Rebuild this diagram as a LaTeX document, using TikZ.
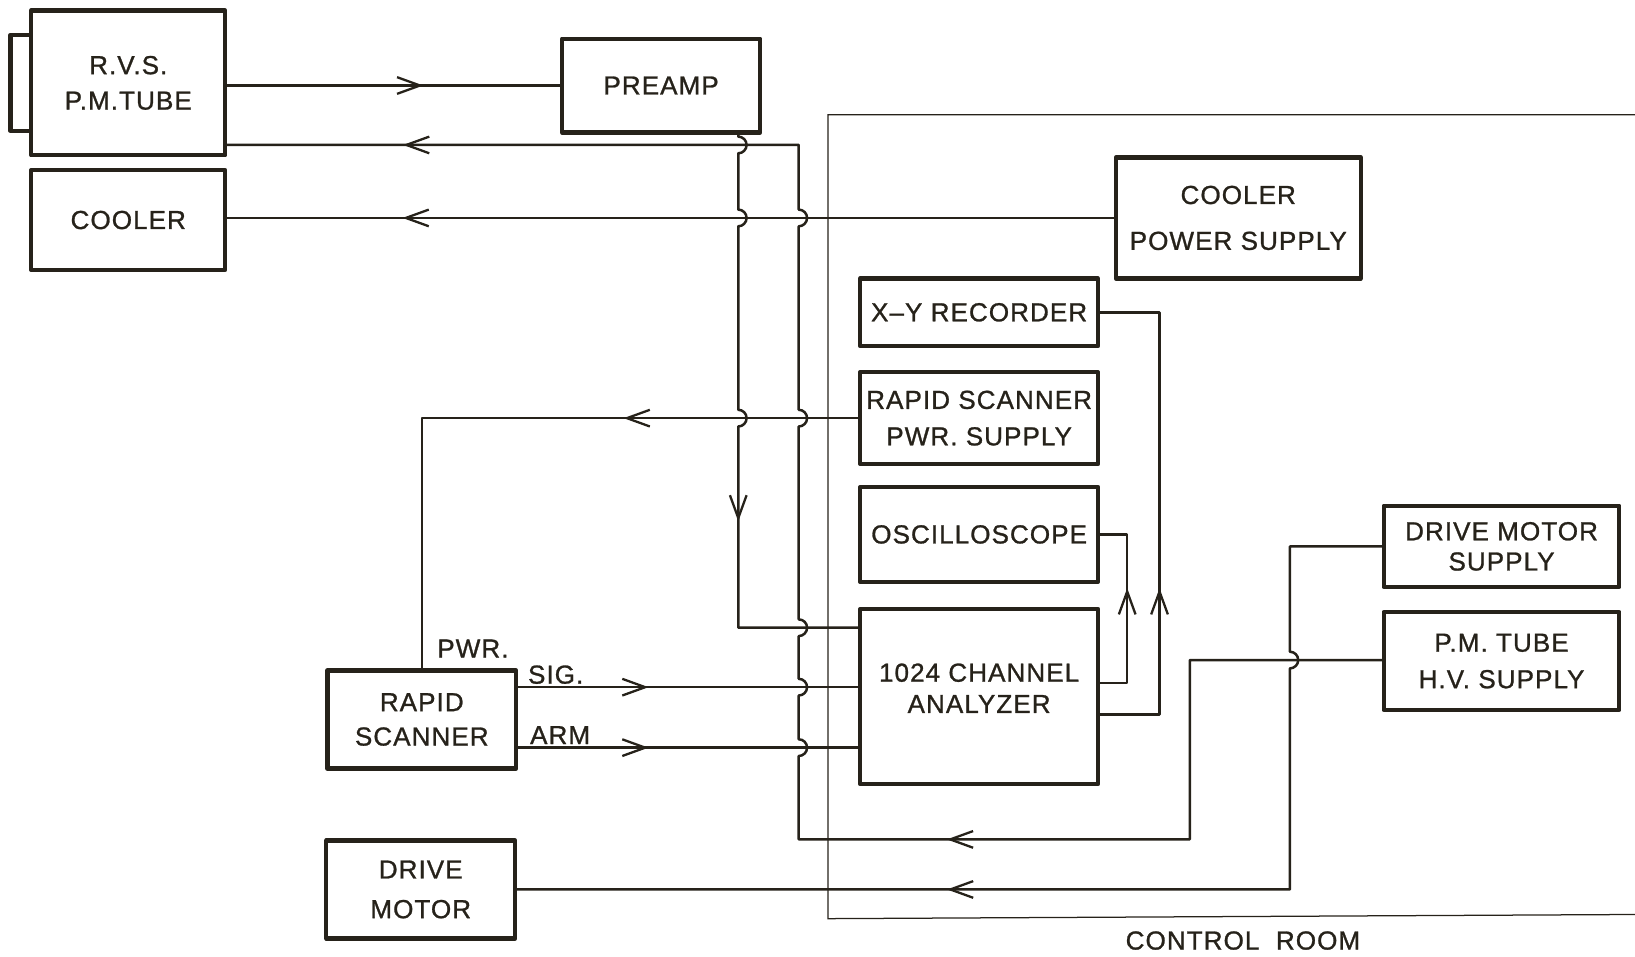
\documentclass[tikz,border=0pt]{standalone}
\usepackage{fontspec}
\setmainfont{Liberation Sans}[LetterSpace=4, FakeBold=1]
\usetikzlibrary{arrows.meta,decorations.markings}
\definecolor{ink}{RGB}{38,34,26}
\tikzset{
  chev/.tip={Straight Barb[length=11pt,width=8pt,line width=1.1pt]},
  box/.style={draw=ink, line width=2pt, line join=round, outer sep=0pt, inner sep=0pt,
              align=center, font=\fontsize{12.5}{15}\selectfont, text=ink},
  wire/.style={draw, color=ink, line width=1.2pt, line join=round},
  frameline/.style={draw=ink, line width=0.6pt},
  lbl/.style={text=ink, font=\fontsize{12.5}{15}\selectfont, inner sep=0pt},
  tipat/.style={postaction={decorate,decoration={markings,mark=at position #1 with {\arrow{chev}}}}}
}
\begin{document}
\begin{tikzpicture}[x=0.5pt,y=-0.5pt]
\useasboundingbox (0,0) rectangle (1568,917);

% control room outline
\draw[frameline] (1568,110) -- (794,110) -- (794,881) -- (1568,877);
\node[lbl] (crl) at (1192,902) {CONTROL\ \ ROOM};

% boxes
\node[box, minimum width=93pt, minimum height=69.5pt] (rvs) at (123,79.5) {R.V.S.\\[2pt]P.M.TUBE};
\node[box, minimum width=10pt, minimum height=46pt, anchor=east] (lens) at (rvs.west) {};
\node[box, minimum width=95pt, minimum height=45pt] (pre) at (634,82) {PREAMP};
\node[box, minimum width=93pt, minimum height=48pt] (cool) at (123,211) {COOLER};
\node[box, minimum width=117.5pt, minimum height=58pt] (cps) at (1187.5,209) {COOLER\\[7pt]POWER SUPPLY};
\node[box, minimum width=114pt, minimum height=32.5pt] (xy) at (939,299.5) {X--Y RECORDER};
\node[box, minimum width=114pt, minimum height=44pt] (rsps) at (939,401) {RAPID SCANNER\\[2.5pt]PWR. SUPPLY};
\node[box, minimum width=114pt, minimum height=45.5pt] (osc) at (939,512.5) {OSCILLOSCOPE};
\node[box, minimum width=114pt, minimum height=84pt] (ana) at (939,668) {};
\node[lbl, align=center] (anatxt) at (939,660) {1024 CHANNEL\\ANALYZER};
\node[box, minimum width=113pt, minimum height=39pt] (dms) at (1440,524) {DRIVE MOTOR\\[-0.5pt]SUPPLY};
\node[box, minimum width=113pt, minimum height=47pt] (hvs) at (1440,634) {P.M. TUBE\\[2.5pt]H.V. SUPPLY};
\node[box, minimum width=90.5pt, minimum height=47pt] (rs) at (404.5,690) {RAPID\\[1.5pt]SCANNER};
\node[box, minimum width=90.5pt, minimum height=47pt] (dm) at (403.5,853) {DRIVE\\[4pt]MOTOR};

% small labels
\node[lbl, anchor=west] (pwr) at (419,622) {PWR.};
\node[lbl, anchor=west] (sig) at (506,647) {SIG.};
\node[lbl, anchor=west] (arm) at (508,705) {ARM};

% helper coordinates
\coordinate (cA) at (708,0);
\coordinate (cB) at (766,0);
\coordinate (cHV) at (1141,0);
\coordinate (cO) at (1081,0);
\coordinate (cX) at (1112,0);
\coordinate (cD) at (1237,0);
\coordinate (yRet) at (0,139);
\coordinate (yHV) at (0,633);
\coordinate (yBot) at (0,805);
\coordinate (yPA) at (0,602);
\coordinate (ySIG) at (0,659);
\coordinate (yARM) at (0,717);
\coordinate (yO) at (0,655);
\coordinate (yX) at (0,685);

% connectors
\draw[wire, tipat=95pt] (rvs.east |- pre.west) -- (pre.west);
\draw[wire, tipat=342pt] (cps.west) -- (cool.east |- cps.west);
\draw[wire, tipat=113.5pt] (rsps.west) -- (rsps.west -| rs.north) -- (rs.north);
\draw[wire, tipat=63.5pt] (rs.east |- ySIG) -- (ana.west |- ySIG);
\draw[wire, tipat=63.5pt] (rs.east |- yARM) -- (ana.west |- yARM);
\draw[wire, tipat=59.5pt] (ana.east |- yO) -- (cO |- yO) -- (cO |- osc.east) -- (osc.east);
\draw[wire, tipat=90pt] (ana.east |- yX) -- (cX |- yX) -- (cX |- xy.east) -- (xy.east);

\draw[wire, tipat=200.2pt] (pre.south -| cA) -- (708,131) arc(-90:90:8)
  -- (708,201) arc(-90:90:8) -- (708,393) arc(-90:90:8)
  -- (cA |- yPA) -- (ana.west |- yPA);

\draw[wire, tipat=295.5pt, tipat=912pt] (hvs.west |- yHV) -- (cHV |- yHV) -- (cHV |- yBot) -- (cB |- yBot)
  -- (766,725) arc(90:-90:8) -- (766,667) arc(90:-90:8) -- (766,610) arc(90:-90:8)
  -- (766,409) arc(90:-90:8) -- (766,217) arc(90:-90:8)
  -- (cB |- yRet) -- (rvs.east |- yRet);

\draw[wire, tipat=378.5pt] (dms.west) -- (cD |- dms.west) -- (1237,625) arc(-90:90:8)
  -- (cD |- dm.east) -- (dm.east);
\end{tikzpicture}
\end{document}
